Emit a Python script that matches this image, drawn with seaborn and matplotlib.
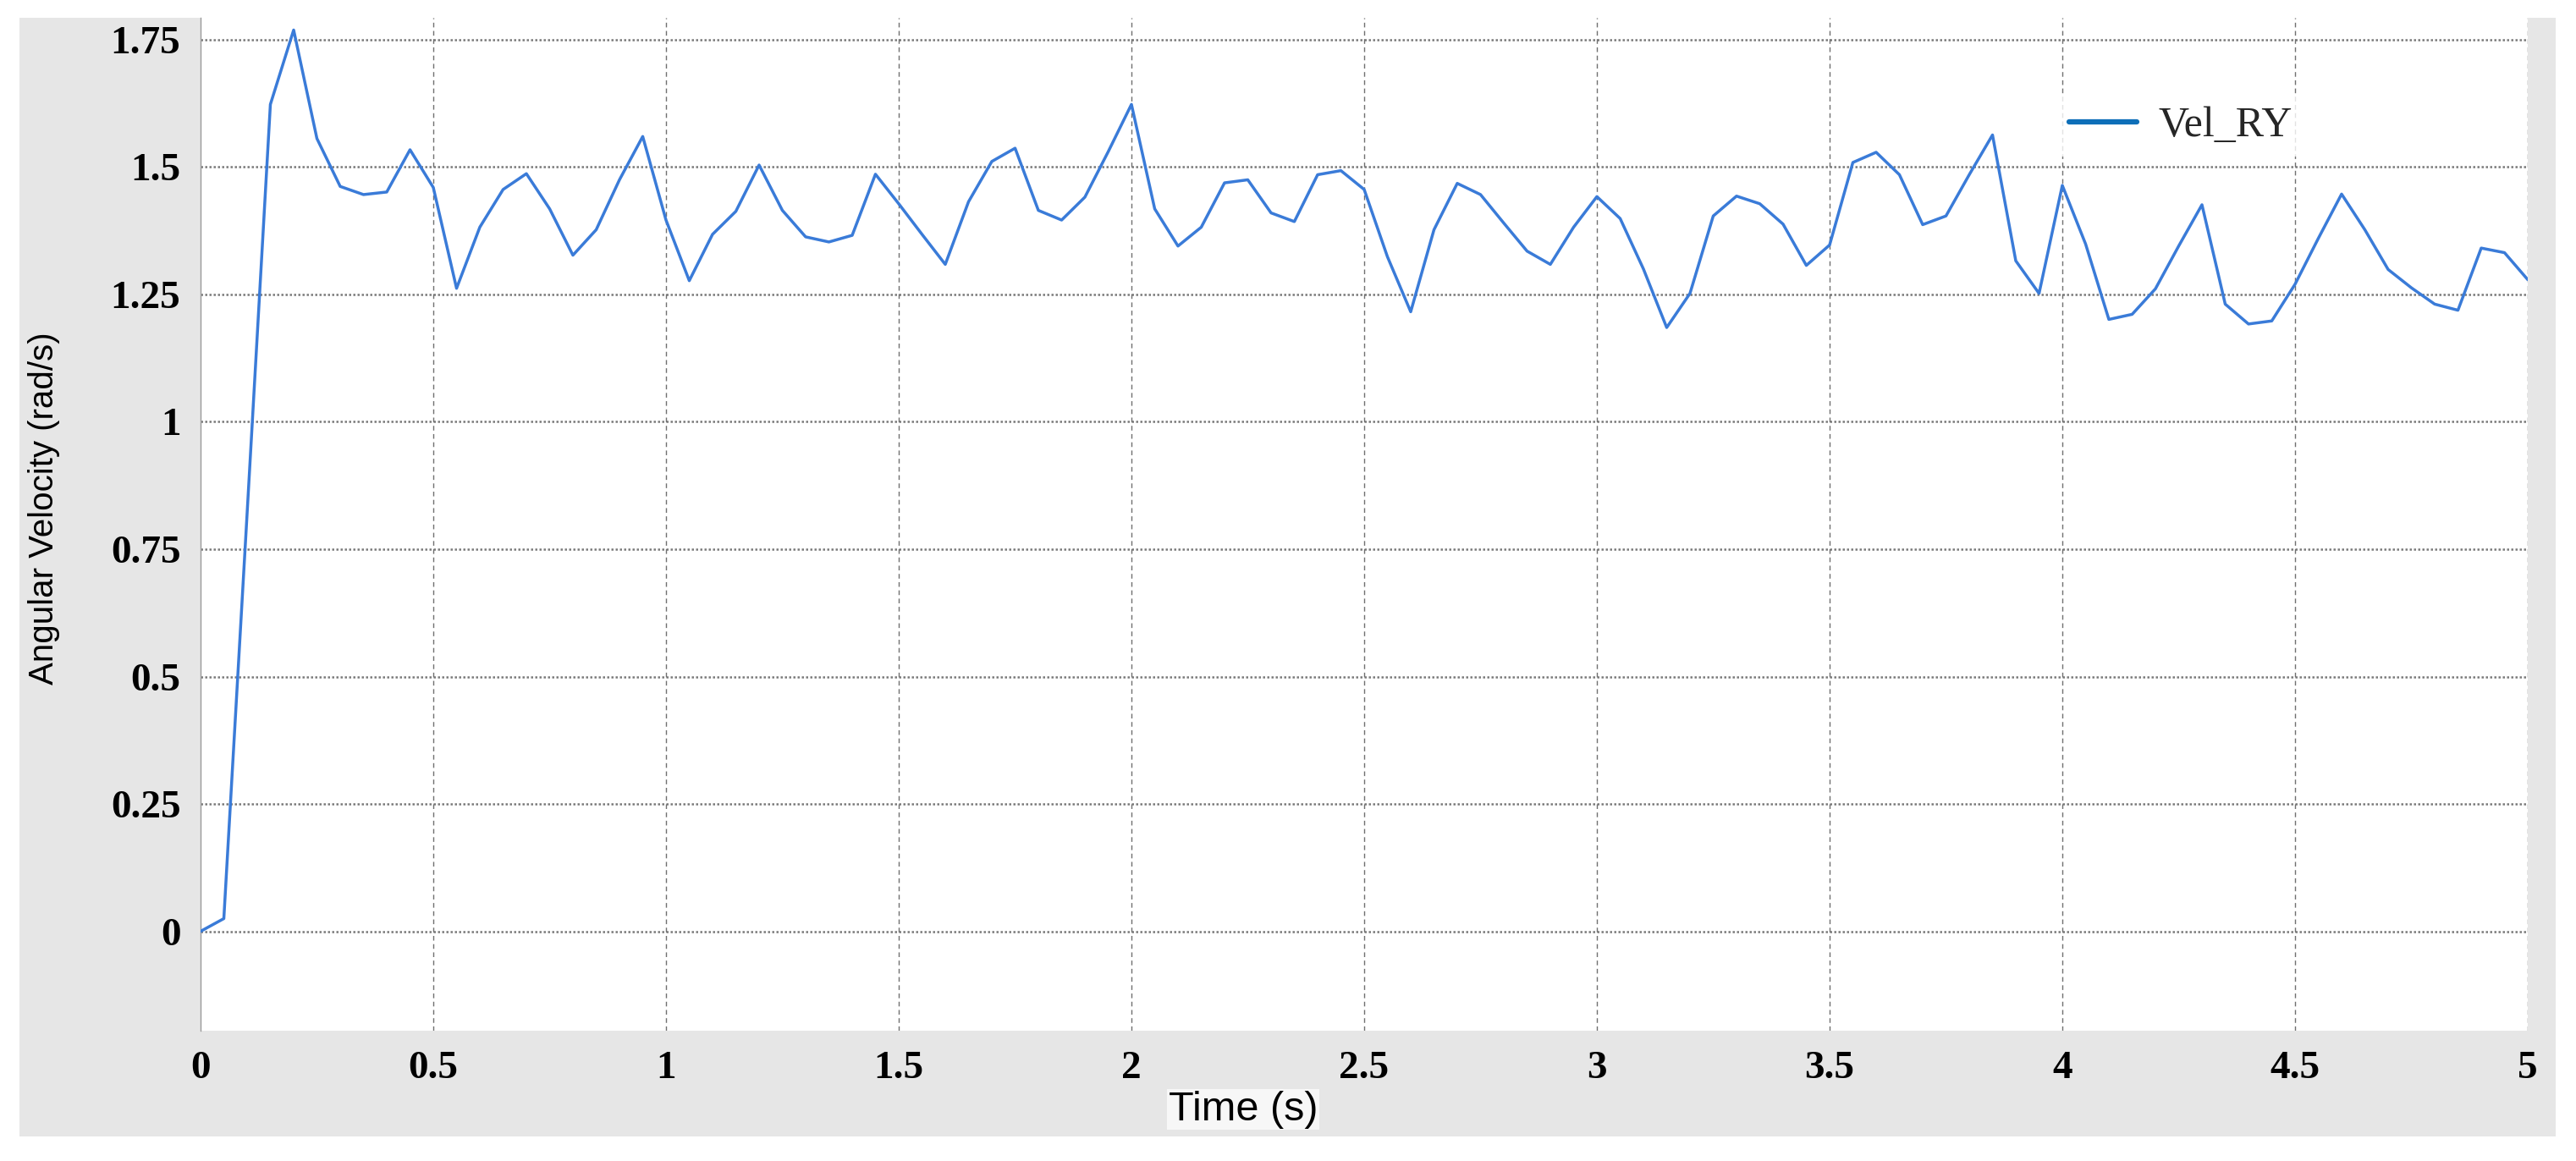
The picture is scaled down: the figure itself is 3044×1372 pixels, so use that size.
import matplotlib
matplotlib.use("Agg")
import matplotlib.pyplot as plt
import seaborn as sns
import pandas as pd
from matplotlib.lines import Line2D
from matplotlib.patches import Rectangle

# ── Data ──────────────────────────────────────────────────────────
time_s = [
    0.00, 0.05, 0.10, 0.15, 0.20, 0.25, 0.30, 0.35, 0.40, 0.45,
    0.50, 0.55, 0.60, 0.65, 0.70, 0.75, 0.80, 0.85, 0.90, 0.95,
    1.00, 1.05, 1.10, 1.15, 1.20, 1.25, 1.30, 1.35, 1.40, 1.45,
    1.50, 1.55, 1.60, 1.65, 1.70, 1.75, 1.80, 1.85, 1.90, 1.95,
    2.00, 2.05, 2.10, 2.15, 2.20, 2.25, 2.30, 2.35, 2.40, 2.45,
    2.50, 2.55, 2.60, 2.65, 2.70, 2.75, 2.80, 2.85, 2.90, 2.95,
    3.00, 3.05, 3.10, 3.15, 3.20, 3.25, 3.30, 3.35, 3.40, 3.45,
    3.50, 3.55, 3.60, 3.65, 3.70, 3.75, 3.80, 3.85, 3.90, 3.95,
    4.00, 4.05, 4.10, 4.15, 4.20, 4.25, 4.30, 4.35, 4.40, 4.45,
    4.50, 4.55, 4.60, 4.65, 4.70, 4.75, 4.80, 4.85, 4.90, 4.95,
    5.00,
]
vel_ry = [
    0.000, 0.025, 0.820, 1.623, 1.769, 1.556, 1.462, 1.446, 1.451, 1.534,
    1.460, 1.262, 1.382, 1.456, 1.487, 1.418, 1.327, 1.377, 1.475, 1.560,
    1.396, 1.277, 1.368, 1.413, 1.504, 1.415, 1.363, 1.353, 1.366, 1.486,
    1.428, 1.368, 1.309, 1.432, 1.511, 1.537, 1.415, 1.396, 1.441, 1.530,
    1.623, 1.418, 1.345, 1.382, 1.469, 1.475, 1.410, 1.393, 1.485, 1.493,
    1.456, 1.324, 1.216, 1.377, 1.468, 1.446, 1.390, 1.335, 1.309, 1.382,
    1.442, 1.399, 1.300, 1.185, 1.252, 1.404, 1.443, 1.428, 1.388, 1.307,
    1.347, 1.509, 1.529, 1.485, 1.387, 1.404, 1.485, 1.563, 1.316, 1.252,
    1.464, 1.349, 1.201, 1.211, 1.261, 1.345, 1.426, 1.231, 1.192, 1.198,
    1.270, 1.360, 1.447, 1.377, 1.299, 1.263, 1.231, 1.219, 1.341, 1.332,
    1.279,
]
x_ticks = [0, 0.5, 1, 1.5, 2, 2.5, 3, 3.5, 4, 4.5, 5]
x_tick_labels = ["0", "0.5", "1", "1.5", "2", "2.5", "3", "3.5", "4", "4.5", "5"]
y_ticks = [0, 0.25, 0.5, 0.75, 1, 1.25, 1.5, 1.75]
y_tick_labels = ["0", "0.25", "0.5", "0.75", "1", "1.25", "1.5", "1.75"]
series_name = "Vel_RY"

df = pd.DataFrame({"Time (s)": time_s, series_name: vel_ry})

# ── Figure ────────────────────────────────────────────────────────
sns.set_theme(style="white")
plt.rcParams["font.family"] = ["Liberation Serif", "DejaVu Serif"]
sans = ["Liberation Sans", "DejaVu Sans"]

W, H = 3044, 1372
fig = plt.figure(figsize=(W / 100, H / 100), dpi=100, facecolor="white")

# grey panel behind the axes
fig.patches.append(Rectangle((23 / W, 1 - 1343 / H), (3020 - 23) / W, (1343 - 21) / H,
                             transform=fig.transFigure, facecolor="#e6e6e6",
                             edgecolor="none", zorder=-10))

ax = fig.add_axes([237 / W, 1 - 1218 / H, (2987 - 237) / W, (1218 - 21) / H])
ax.set_facecolor("white")

sns.lineplot(data=df, x="Time (s)", y=series_name, ax=ax, color="#3a7bd8",
             linewidth=2.5, legend=False, zorder=3)

ax.set_xlim(0, 5)
ax.set_ylim(-0.195, 1.793)
ax.set_xticks(x_ticks)
ax.set_xticklabels(x_tick_labels)
ax.set_yticks(y_ticks)
ax.set_yticklabels(y_tick_labels)
ax.tick_params(axis="both", length=0, labelsize=34, colors="black")
ax.tick_params(axis="x", pad=17)
ax.tick_params(axis="y", pad=17)
for lbl in ax.get_xticklabels() + ax.get_yticklabels():
    lbl.set_fontweight("bold")

# grid: dotted horizontals, dashed verticals
for yv in y_ticks:
    ax.axhline(yv, color="#7a7a7a", lw=1.8, ls=(0, (1, 1)), zorder=1)
for xv in x_ticks[1:]:
    ax.axvline(xv, color="#707070", lw=1.0, ls=(0, (4, 3)), zorder=1)

for side in ["top", "right", "bottom"]:
    ax.spines[side].set_visible(False)
ax.spines["left"].set_color("#9a9a9a")
ax.spines["left"].set_linewidth(1.0)

ax.set_xlabel("Time (s)", fontsize=35, family=sans, color="black", va="center",
              bbox=dict(facecolor="#f7f7f7", edgecolor="none", pad=1))
ax.xaxis.set_label_coords((1469 - 237) / 2750, -93 / 1197)
ax.set_ylabel("Angular Velocity (rad/s)", fontsize=29, family=sans,
              color="black", va="center")
ax.yaxis.set_label_coords((52 - 237) / 2750, (1218 - 601) / 1197)

handle = Line2D([0], [0], color="#0e6fb8", lw=4.5)
leg = ax.legend([handle], [series_name], loc="upper left",
                bbox_to_anchor=((2433 - 237) / 2750, (1218 - 113) / 1197),
                fontsize=36, frameon=True, fancybox=False, handlelength=1.6,
                handletextpad=0.5, borderpad=0.25, borderaxespad=0)
leg.get_frame().set_facecolor("white")
leg.get_frame().set_edgecolor("none")
leg.set_zorder(5)

fig.savefig("out.png", dpi=100, facecolor="white")
